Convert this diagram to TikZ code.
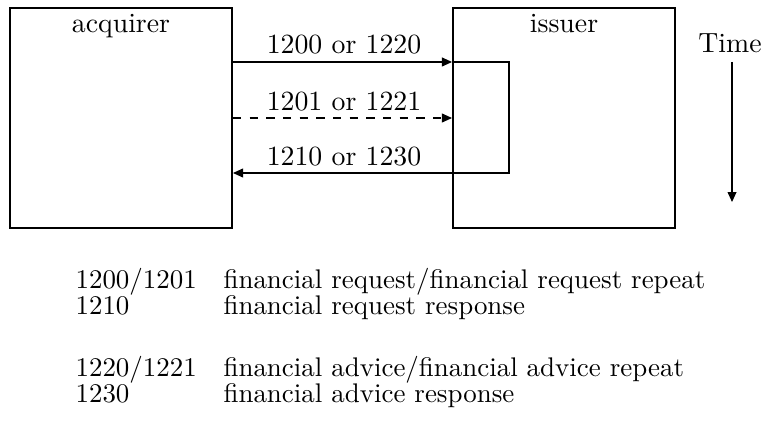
\documentclass[tikz,border=0pt]{standalone}
\usepackage{tikz}
\usetikzlibrary{positioning,calc,arrows.meta}

\begin{document}
\begin{tikzpicture}[x=0.36pt,y=-0.36pt,party/.style={draw=black,line width=0.75pt,minimum width=79.9pt,minimum height=79.2pt,inner sep=0pt},msg/.style={line width=0.4pt,-{Triangle[length=3.6pt,width=3.2pt]}},lbl/.style={inner sep=0pt,anchor=base},key/.style={inner sep=0pt,anchor=base west,font=\fontsize{9.7pt}{12pt}\selectfont}]

        \useasboundingbox (0,0) rectangle (763,423);

        \node[party] (acq) at (121,118) {};
        \node[party] (iss) at (564,118) {};

        \node[lbl] (acqname) at (121,33) {acquirer};
        \node[lbl] (issname) at (564,33) {issuer};

        \coordinate (a1) at (acq.east |- 0,62);
        \coordinate (a2) at (acq.east |- 0,118);
        \coordinate (a3) at (acq.east |- 0,173);
        \coordinate (i1) at (iss.west |- 0,62);
        \coordinate (i2) at (iss.west |- 0,118);
        \coordinate (i3) at (iss.west |- 0,173);
        \coordinate (k1) at (509,62);
        \coordinate (k2) at (509,173);

        \draw[msg] (a1) to (i1);
        \draw[msg,dashed] (a2) to (i2);
        \draw[line width=0.4pt] (i1) -- (k1) -- (k2) -- (i3);
        \draw[msg] (i3) to (a3);

        \node[lbl] (m1) at (344,54) {1200 or 1220};
        \node[lbl] (m2) at (344,110) {1201 or 1221};
        \node[lbl] (m3) at (344,165) {1210 or 1230};

        \node[lbl] (time) at (730,53) {Time};
        \coordinate (t1) at (732,62);
        \coordinate (t2) at (732,202);
        \draw[msg] (t1) to (t2);

        \node[key] (c1) at (75,288) {1200/1201};
        \node[key] (d1) at (223,288) {financial request/financial request repeat};
        \node[key] (c2) at (75,314) {1210};
        \node[key] (d2) at (223,314) {financial request response};
        \node[key] (c3) at (75,376) {1220/1221};
        \node[key] (d3) at (223,376) {financial advice/financial advice repeat};
        \node[key] (c4) at (75,402) {1230};
        \node[key] (d4) at (223,402) {financial advice response};
    \end{tikzpicture}
\end{document}
